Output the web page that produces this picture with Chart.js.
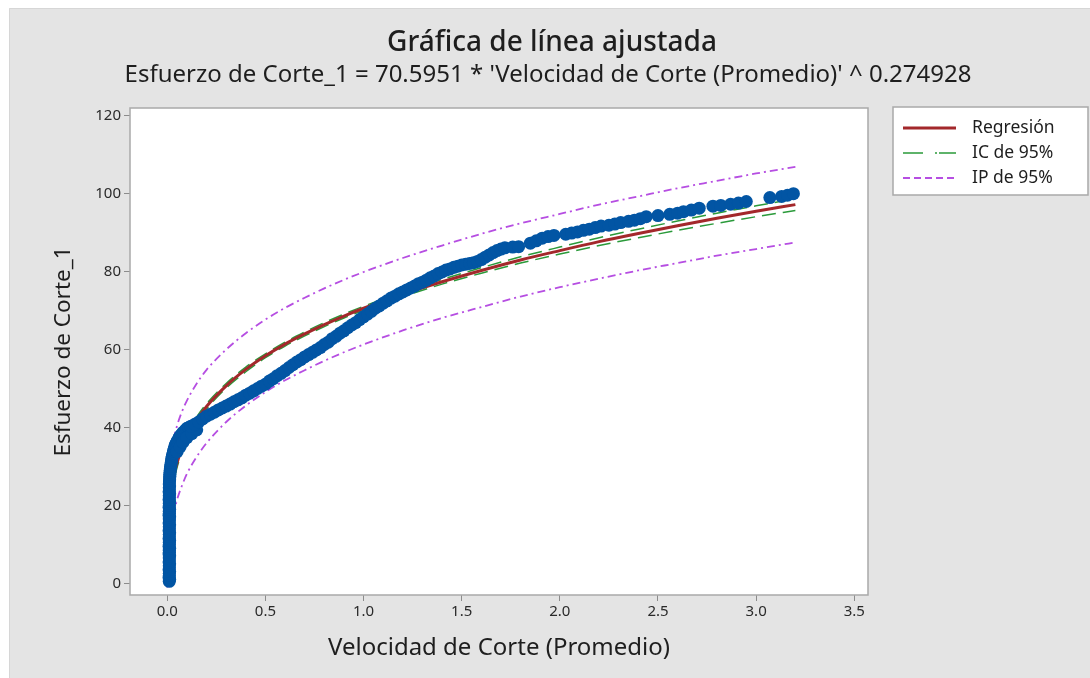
<!DOCTYPE html>
<html>
<head>
<meta charset="utf-8">
<script src="https://cdn.jsdelivr.net/npm/chart.js@4.4.1/dist/chart.umd.min.js"></script>
<style>
  html, body { margin: 0; padding: 0; background: #ffffff; }
  #chart { display: block; }
</style>
</head>
<body>
<canvas id="chart" width="1090" height="678"></canvas>
<script>
const obsX = [
  0.010, 0.012, 0.009, 0.011, 0.010, 0.012, 0.009, 0.011, 0.010, 0.012,
  0.009, 0.011, 0.010, 0.012, 0.009, 0.011, 0.010, 0.012, 0.009, 0.011,
  0.010, 0.012, 0.009, 0.011, 0.010, 0.012, 0.009, 0.011, 0.010, 0.012,
  0.009, 0.011, 0.010, 0.012, 0.009, 0.011, 0.010, 0.012, 0.009, 0.011,
  0.010, 0.012, 0.009, 0.011, 0.010, 0.012, 0.009, 0.011, 0.010, 0.012,
  0.010, 0.011,
  0.012, 0.012, 0.013, 0.013, 0.014, 0.015, 0.016, 0.017, 0.019, 0.020,
  0.022, 0.023, 0.025, 0.027, 0.030, 0.032, 0.035, 0.038, 0.041, 0.045,
  0.049, 0.053, 0.058, 0.062, 0.067, 0.072, 0.078, 0.084, 0.092, 0.100, 0.11,
  0.050, 0.065, 0.080, 0.100, 0.125, 0.150,
  0.12, 0.14, 0.16, 0.18, 0.20, 0.22, 0.24, 0.26, 0.28, 0.30,
  0.32, 0.34, 0.36, 0.38, 0.40, 0.42, 0.44, 0.46, 0.48, 0.50,
  0.52, 0.54, 0.56, 0.58, 0.60, 0.62, 0.64, 0.66, 0.68, 0.70,
  0.72, 0.74, 0.76, 0.78, 0.80, 0.82, 0.84, 0.86, 0.88, 0.90,
  0.92, 0.94, 0.96, 0.98, 1.00, 1.02, 1.04, 1.06, 1.08, 1.10,
  1.12, 1.14, 1.16, 1.18, 1.20, 1.22, 1.24, 1.26, 1.28, 1.30,
  1.32, 1.34, 1.36, 1.38, 1.40, 1.42, 1.44, 1.46, 1.48, 1.50,
  1.52, 1.54, 1.56, 1.58, 1.60, 1.62, 1.64, 1.66, 1.68, 1.70, 1.72,
  1.76, 1.79, 1.85, 1.88, 1.91, 1.94, 1.97, 2.03, 2.06, 2.09,
  2.12, 2.15, 2.18, 2.21, 2.25, 2.28, 2.31, 2.35, 2.38, 2.41,
  2.44, 2.50, 2.56, 2.60, 2.63, 2.67, 2.71, 2.78, 2.82, 2.87,
  2.91, 2.95, 3.07, 3.13, 3.16, 3.19
];
const obsY = [
  0.5, 1.0, 1.5, 2.0, 2.5, 3.0, 3.5, 4.0, 4.5, 5.0,
  5.5, 6.0, 6.5, 7.0, 7.5, 8.0, 8.5, 9.0, 9.5, 10.0,
  10.5, 11.0, 11.5, 12.0, 12.5, 13.0, 13.5, 14.0, 14.5, 15.0,
  15.5, 16.0, 16.5, 17.0, 17.5, 18.0, 18.5, 19.0, 19.5, 20.0,
  20.5, 21.0, 21.5, 22.0, 22.5, 23.0, 23.5, 24.0, 24.5, 25.0,
  25.5, 26.0,
  26.5, 27.0, 27.5, 28.0, 28.5, 29.0, 29.5, 30.0, 30.5, 31.0,
  31.5, 32.0, 32.5, 33.0, 33.5, 34.0, 34.5, 35.0, 35.5, 35.9,
  36.3, 36.7, 37.1, 37.5, 37.9, 38.2, 38.6, 38.9, 39.3, 39.8, 40.0,
  33.8, 35.0, 36.2, 37.4, 38.4, 39.4,
  40.3, 40.8, 41.4, 42.2, 42.9, 43.4, 43.9, 44.5, 45.0, 45.5,
  46.0, 46.6, 47.1, 47.6, 48.3, 48.8, 49.4, 50.0, 50.6, 51.1,
  51.9, 52.5, 53.3, 53.9, 54.6, 55.4, 56.1, 56.8, 57.4, 58.1,
  58.7, 59.3, 59.9, 60.5, 61.3, 61.9, 62.8, 63.4, 64.2, 64.8,
  65.6, 66.3, 66.9, 67.7, 68.4, 69.1, 69.8, 70.6, 71.2, 71.9,
  72.5, 73.2, 73.7, 74.3, 74.8, 75.3, 75.8, 76.3, 76.9, 77.3,
  77.8, 78.4, 78.9, 79.5, 79.9, 80.4, 80.7, 81.1, 81.4, 81.7,
  81.9, 82.1, 82.3, 82.6, 83.1, 83.7, 84.3, 84.9, 85.4, 85.8, 86.1,
  86.3, 86.4, 87.3, 87.9, 88.6, 89.0, 89.3, 89.6, 89.9, 90.2,
  90.6, 90.9, 91.3, 91.7, 91.9, 92.2, 92.6, 92.9, 93.2, 93.6,
  94.1, 94.4, 94.7, 95.0, 95.4, 95.8, 96.3, 96.8, 97.0, 97.3,
  97.6, 98.0, 99.0, 99.3, 99.6, 100.0
];

// Fitted line and bands, sampled along x
const lineX = [0.0005, 0.002, 0.005, 0.01, 0.02, 0.03, 0.05, 0.075, 0.1, 0.15,
  0.2, 0.3, 0.4, 0.5, 0.6, 0.7, 0.8, 0.9, 1.0, 1.2,
  1.4, 1.6, 1.8, 2.0, 2.2, 2.4, 2.6, 2.8, 3.0, 3.2];
const fitY = [8.7, 12.8, 16.5, 19.9, 24.1, 26.9, 31.0, 34.6, 37.5, 41.9,
  45.4, 50.7, 54.9, 58.4, 61.4, 64.0, 66.4, 68.6, 70.6, 74.2,
  77.4, 80.3, 83.0, 85.4, 87.7, 89.8, 91.8, 93.7, 95.5, 97.2];
const ciUpper = [11.2, 15.0, 18.5, 21.7, 25.6, 28.3, 32.2, 35.6, 38.4, 42.7,
  46.1, 51.3, 55.5, 58.9, 61.9, 64.5, 66.9, 69.1, 71.1, 74.8,
  78.0, 81.0, 83.8, 86.3, 88.7, 90.9, 93.0, 95.0, 96.9, 98.7];
const ciLower = [6.2, 10.6, 14.5, 18.1, 22.6, 25.5, 29.8, 33.6, 36.6, 41.1,
  44.7, 50.1, 54.3, 57.9, 60.9, 63.5, 65.9, 68.1, 70.1, 73.6,
  76.8, 79.6, 82.2, 84.5, 86.7, 88.7, 90.6, 92.4, 94.1, 95.7];
const piUpper = [18.5, 22.6, 26.2, 29.6, 33.7, 36.5, 40.5, 44.1, 46.9, 51.3,
  54.8, 60.0, 64.2, 67.7, 70.7, 73.3, 75.7, 77.9, 79.9, 83.5,
  86.7, 89.7, 92.4, 94.8, 97.2, 99.3, 101.4, 103.3, 105.2, 106.9];
const piLower = [-1.1, 3.0, 6.8, 10.2, 14.5, 17.3, 21.5, 25.1, 28.1, 32.5,
  36.0, 41.4, 45.6, 49.1, 52.1, 54.7, 57.1, 59.3, 61.3, 64.9,
  68.1, 70.9, 73.6, 76.0, 78.2, 80.3, 82.2, 84.1, 85.8, 87.5];

const xTicks = [0, 0.5, 1, 1.5, 2, 2.5, 3, 3.5];
const yTicks = [0, 20, 40, 60, 80, 100, 120];

const titleText = "Gráfica de línea ajustada";
const subtitleText = "Esfuerzo de Corte_1 = 70.5951 * 'Velocidad de Corte (Promedio)' ^ 0.274928";
const xTitle = "Velocidad de Corte (Promedio)";
const yTitle = "Esfuerzo de Corte_1";

const FONT = "'Noto Sans', 'Open Sans', sans-serif";
const INK = "#1e1e1e";
const BLUE = "#0255a4";
const RED = "#a3282b";
const GREEN = "#2a9a3a";
const PURPLE = "#b64ee2";

const toPoints = (xs, ys) => xs.map((x, i) => ({ x, y: ys[i] }));

const lineSet = (label, ys, color, width, dash) => ({
  label,
  data: toPoints(lineX, ys),
  showLine: true,
  borderColor: color,
  backgroundColor: color,
  borderWidth: width,
  borderDash: dash,
  pointRadius: 0,
  cubicInterpolationMode: "monotone",
});

const legendItems = [
  { text: "Regresión", color: RED, width: 3, dash: [] },
  { text: "IC de 95%", color: GREEN, width: 1.5, dash: [20, 12, 2, 2] },
  { text: "IP de 95%", color: PURPLE, width: 2, dash: [7, 4] },
];

// grey panel, white plot area
const backdrop = {
  id: "backdrop",
  beforeDraw(chart) {
    const { ctx, chartArea: a } = chart;
    ctx.save();
    ctx.fillStyle = "#ffffff";
    ctx.fillRect(0, 0, chart.width, chart.height);
    ctx.fillStyle = "#e4e4e4";
    ctx.fillRect(9, 8, chart.width - 9, chart.height - 8);
    ctx.strokeStyle = "#d6d6d6";
    ctx.lineWidth = 1;
    ctx.beginPath();
    ctx.moveTo(9.5, chart.height);
    ctx.lineTo(9.5, 8.5);
    ctx.lineTo(chart.width, 8.5);
    ctx.stroke();
    ctx.fillStyle = "#ffffff";
    ctx.fillRect(a.left, a.top, a.right - a.left, a.bottom - a.top);
    ctx.restore();
  },
};

// frame, titles and legend
const decorations = {
  id: "decorations",
  afterDraw(chart) {
    const { ctx, chartArea: a } = chart;
    ctx.save();
    ctx.strokeStyle = "#a9a9a9";
    ctx.lineWidth = 1.5;
    ctx.strokeRect(a.left, a.top, a.right - a.left, a.bottom - a.top);

    ctx.fillStyle = INK;
    ctx.textAlign = "center";
    ctx.textBaseline = "middle";
    ctx.font = "500 28px " + FONT;
    ctx.fillText(titleText, 552, 43);
    ctx.font = "24px " + FONT;
    ctx.fillText(subtitleText, 548, 75);

    // legend box
    const lx = 893, ly = 107, lw = 195, lh = 88;
    ctx.fillStyle = "#ffffff";
    ctx.fillRect(lx, ly, lw, lh);
    ctx.strokeStyle = "#a9a9a9";
    ctx.lineWidth = 1.5;
    ctx.strokeRect(lx, ly, lw, lh);
    ctx.font = "17.5px " + FONT;
    ctx.textAlign = "left";
    legendItems.forEach((item, i) => {
      const y = ly + 21 + i * 25;
      ctx.strokeStyle = item.color;
      ctx.lineWidth = item.width;
      ctx.setLineDash(item.dash);
      ctx.beginPath();
      ctx.moveTo(903, y);
      ctx.lineTo(956, y);
      ctx.stroke();
      ctx.setLineDash([]);
      ctx.fillStyle = INK;
      ctx.fillText(item.text, 972, y);
    });
    ctx.restore();
  },
};

const tickFont = { family: FONT, size: 15 };

new Chart(document.getElementById("chart").getContext("2d"), {
  type: "scatter",
  data: {
    datasets: [
      {
        label: "Observado",
        data: toPoints(obsX, obsY),
        backgroundColor: BLUE,
        borderColor: BLUE,
        borderWidth: 0,
        pointRadius: 6.5,
      },
      lineSet("Regresión", fitY, RED, 3, []),
      lineSet("IC de 95% sup", ciUpper, GREEN, 1.5, [14, 7]),
      lineSet("IC de 95% inf", ciLower, GREEN, 1.5, [14, 7]),
      lineSet("IP de 95% sup", piUpper, PURPLE, 1.8, [8, 4, 2, 4]),
      lineSet("IP de 95% inf", piLower, PURPLE, 1.8, [8, 4, 2, 4]),
    ],
  },
  options: {
    responsive: false,
    animation: false,
    layout: { padding: { left: 0, right: 222, top: 108, bottom: 0 } },
    plugins: {
      legend: { display: false },
      tooltip: { enabled: false },
    },
    scales: {
      x: {
        type: "linear",
        min: -0.19,
        max: 3.57,
        afterFit(scale) { scale.height = 83; },
        afterBuildTicks(scale) { scale.ticks = xTicks.map((v) => ({ value: v })); },
        ticks: {
          font: tickFont,
          color: "#2a2a2a",
          padding: 2,
          maxRotation: 0,
          callback: (v) => Number(v).toFixed(1),
        },
        grid: { drawOnChartArea: false, tickLength: 6, color: "#8c8c8c" },
        border: { display: false },
        title: {
          display: true,
          text: xTitle,
          font: { family: FONT, size: 24 },
          color: INK,
          padding: { top: 0, bottom: 15 },
        },
      },
      y: {
        type: "linear",
        min: -3,
        max: 122,
        afterFit(scale) { scale.width = 130; },
        afterBuildTicks(scale) { scale.ticks = yTicks.map((v) => ({ value: v })); },
        ticks: { font: tickFont, color: "#2a2a2a", padding: 3 },
        grid: { drawOnChartArea: false, tickLength: 6, color: "#8c8c8c" },
        border: { display: false },
        title: {
          display: true,
          text: yTitle,
          font: { family: FONT, size: 22.5 },
          color: INK,
          padding: { top: 50, bottom: 0 },
        },
      },
    },
  },
  plugins: [backdrop, decorations],
});
</script>
</body>
</html>
